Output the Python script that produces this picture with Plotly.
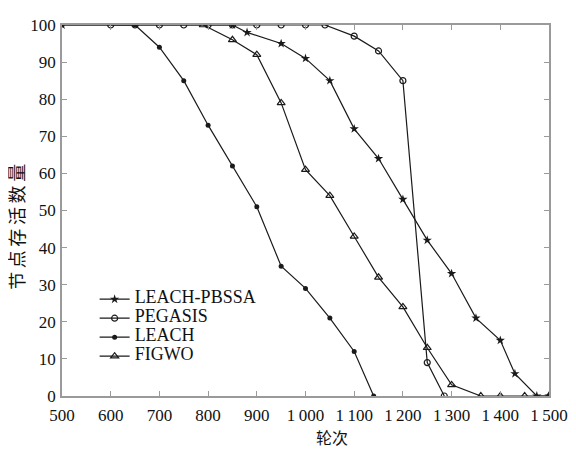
import plotly.graph_objects as go

# ---- data ----
pbssa_x = [500, 850, 880, 950, 1000, 1050, 1100, 1150, 1200, 1250, 1300, 1350, 1400, 1430, 1475, 1500]
pbssa_y = [100, 100, 98, 95, 91, 85, 72, 64, 53, 42, 33, 21, 15, 6, 0, 0]

pegasis_x = [600, 650, 700, 750, 800, 850, 900, 950, 1000, 1040, 1100, 1150, 1200, 1250, 1285]
pegasis_y = [100, 100, 100, 100, 100, 100, 100, 100, 100, 100, 97, 93, 85, 9, 0]

leach_x = [500, 650, 700, 750, 800, 850, 900, 950, 1000, 1050, 1100, 1140]
leach_y = [100, 100, 94, 85, 73, 62, 51, 35, 29, 21, 12, 0]

figwo_x = [790, 850, 900, 950, 1000, 1050, 1100, 1150, 1200, 1250, 1300, 1360, 1400, 1450, 1500]
figwo_y = [100, 96, 92, 79, 61, 54, 43, 32, 24, 13, 3, 0, 0, 0, 0]

series_names = ["LEACH-PBSSA", "PEGASIS", "LEACH", "FIGWO"]

x_ticks = [500, 600, 700, 800, 900, 1000, 1100, 1200, 1300, 1400, 1500]
x_ticktext = ["500", "600", "700", "800", "900", "1\u2009000", "1\u2009100", "1\u2009200", "1\u2009300", "1\u2009400", "1\u2009500"]
y_ticks = [0, 10, 20, 30, 40, 50, 60, 70, 80, 90, 100]

x_title = "轮次"
y_title = "节点存活数量"

FONT = "Liberation Serif, Times New Roman, Noto Sans CJK SC, serif"
LINE = "#1a1a1a"


def leg(name):
    return '<span style="font-size:18px">' + name + '</span>'


fig = go.Figure()
fig.add_trace(go.Scatter(x=pbssa_x, y=pbssa_y, name=leg(series_names[0]), mode="lines+markers",
                         line=dict(color=LINE, width=1.2),
                         marker=dict(symbol="star", size=7, color=LINE)))
fig.add_trace(go.Scatter(x=pegasis_x, y=pegasis_y, name=leg(series_names[1]), mode="lines+markers",
                         line=dict(color=LINE, width=1.2),
                         marker=dict(symbol="circle-open", size=6, color=LINE, line=dict(width=1.2))))
fig.add_trace(go.Scatter(x=leach_x, y=leach_y, name=leg(series_names[2]), mode="lines+markers",
                         line=dict(color=LINE, width=1.2),
                         marker=dict(symbol="circle", size=5, color=LINE)))
fig.add_trace(go.Scatter(x=figwo_x, y=figwo_y, name=leg(series_names[3]), mode="lines+markers",
                         line=dict(color=LINE, width=1.2),
                         marker=dict(symbol="triangle-up-open", size=7, color=LINE, line=dict(width=1.2))))

# page body has an 8px margin; figure sized to fit the 576x449 window
fig.update_layout(
    width=568, height=441,
    margin=dict(l=54, r=25, t=8, b=53),
    paper_bgcolor="white", plot_bgcolor="white",
    font=dict(family=FONT, size=17, color="#111"),
    showlegend=True,
    legend=dict(x=0.067, y=0.30, xanchor="left", yanchor="top",
                bgcolor="rgba(0,0,0,0)", font=dict(size=10.5, family=FONT, color="#111"),
                tracegroupgap=0, itemwidth=30),
    annotations=[
        dict(text=x_title, x=0.555, y=-0.115, xref="paper", yref="paper",
             showarrow=False, font=dict(size=16, family=FONT, color="#111"),
             xanchor="center", yanchor="middle"),
        dict(text="\u2009".join(y_title), x=-0.089, y=0.455, xref="paper", yref="paper", textangle=-90,
             showarrow=False, font=dict(size=18, family=FONT, color="#111"),
             xanchor="center", yanchor="middle"),
    ],
)
fig.update_xaxes(range=[500, 1500], tickvals=x_ticks, ticktext=x_ticktext,
                 showgrid=False, zeroline=False, showline=True, mirror="ticks",
                 linecolor="#9a9a9a", linewidth=1.5, ticks="inside", ticklen=5,
                 tickcolor="#9a9a9a", ticklabelstandoff=3)
fig.update_yaxes(range=[0, 100], tickvals=y_ticks,
                 showgrid=False, zeroline=False, showline=True, mirror="ticks",
                 linecolor="#9a9a9a", linewidth=1.5, ticks="inside", ticklen=5,
                 tickcolor="#9a9a9a", ticklabelstandoff=1)

fig.write_html("out.html")
